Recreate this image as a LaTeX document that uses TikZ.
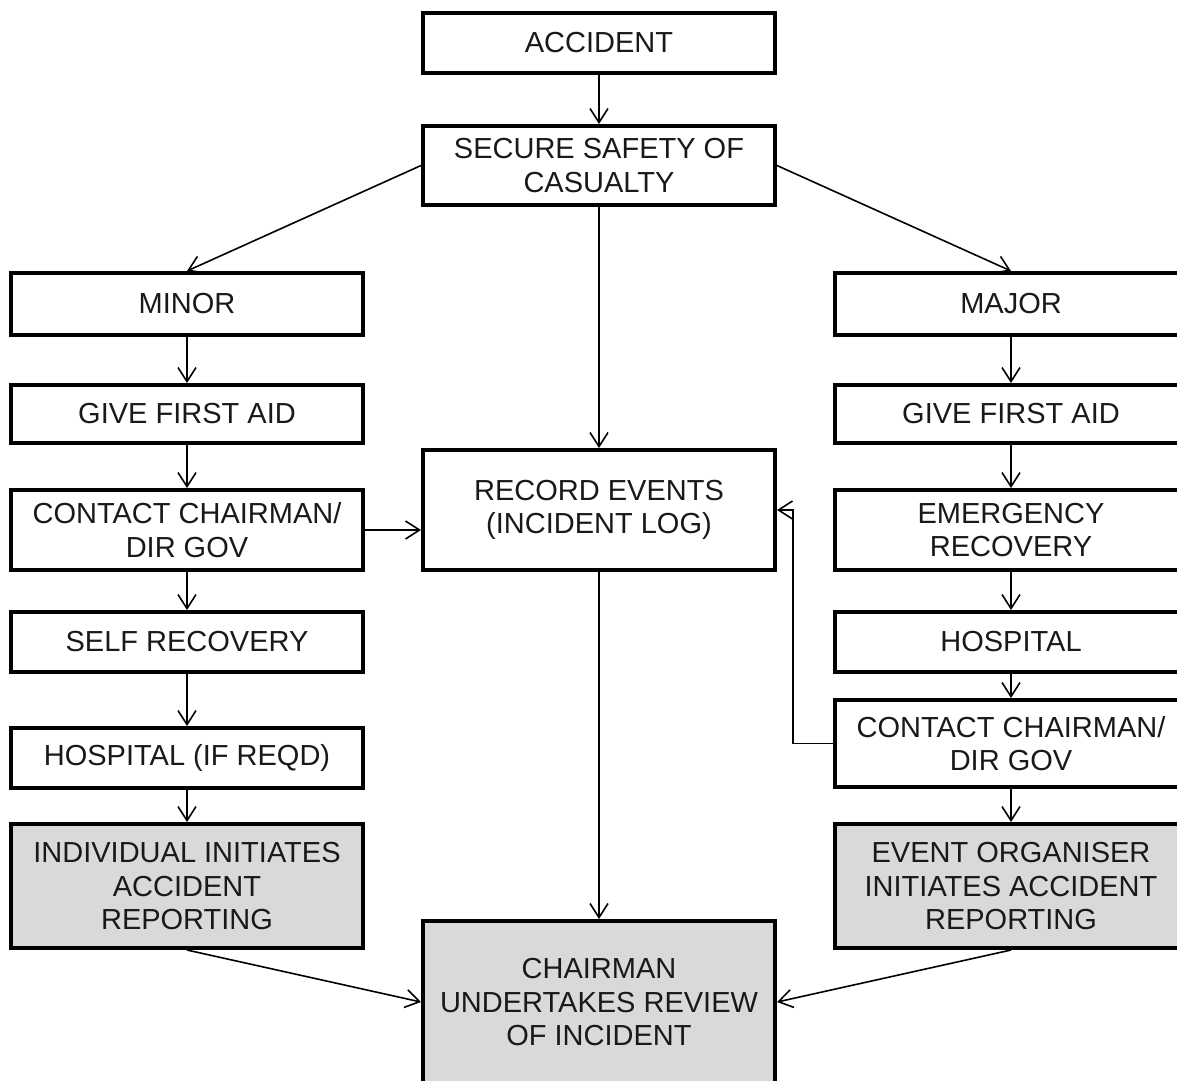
\documentclass[tikz,border=0pt]{standalone}
\usepackage{fontspec}
\setmainfont{Liberation Sans}
\usetikzlibrary{arrows.meta}
\definecolor{boxgray}{HTML}{D9D9D9}
\tikzset{
  box/.style={draw=black, line width=4pt, minimum width=352pt, align=center, inner sep=0pt,
              font=\fontsize{29}{33.5}\selectfont, text=black!90},
  graybox/.style={box, fill=boxgray},
  conn/.style={line width=1.6pt, -{Straight Barb[length=14pt,width=18pt,line width=1.6pt]}}
}
\begin{document}
\begin{tikzpicture}[x=1pt,y=-1pt]
\useasboundingbox (0,0) rectangle (1177,1080);
\node[box, minimum height=60pt] (acc) at (599,43) {ACCIDENT};
\node[box, minimum height=79pt] (sec) at (599,165.5) {SECURE SAFETY OF\\CASUALTY};
\node[box, minimum height=62pt] (minor) at (187,304) {MINOR};
\node[box, minimum height=62pt] (major) at (1011,304) {MAJOR};
\node[box, minimum height=58pt] (gfa1) at (187,414) {GIVE FIRST AID};
\node[box, minimum height=58pt] (gfa2) at (1011,414) {GIVE FIRST AID};
\node[box, minimum height=80pt] (cc1) at (187,530) {CONTACT CHAIRMAN/\\DIR GOV};
\node[box, minimum height=120pt] (rec) at (599,510) {RECORD EVENTS\\(INCIDENT LOG)};
\node[box, minimum height=80pt] (em) at (1011,530) {EMERGENCY\\RECOVERY};
\node[box, minimum height=60pt] (self) at (187,642) {SELF RECOVERY};
\node[box, minimum height=60pt] (hosp) at (1011,642) {HOSPITAL};
\node[box, minimum height=60pt] (hosp1) at (187,758) {HOSPITAL (IF REQD)};
\node[box, minimum height=87pt] (cc2) at (1011,743.5) {CONTACT CHAIRMAN/\\DIR GOV};
\node[graybox, minimum height=124pt] (ind) at (187,886) {INDIVIDUAL INITIATES\\ACCIDENT\\REPORTING};
\node[graybox, minimum height=124pt] (evt) at (1011,886) {EVENT ORGANISER\\INITIATES ACCIDENT\\REPORTING};
\node[graybox, minimum height=162pt] (chair) at (599,1002) {CHAIRMAN\\UNDERTAKES REVIEW\\OF INCIDENT};

\draw[conn] (acc) -- (sec);
\draw[conn] (sec.west) -- (minor.north);
\draw[conn] (sec.east) -- (major.north);
\draw[conn] (sec) -- (rec);
\draw[conn] (minor) -- (gfa1);
\draw[conn] (gfa1) -- (cc1);
\draw[conn] (cc1) -- (self);
\draw[conn] (self) -- (hosp1);
\draw[conn] (hosp1) -- (ind);
\draw[conn] (cc1.east) -- (rec.west |- cc1.east);
\draw[conn] (major) -- (gfa2);
\draw[conn] (gfa2) -- (em);
\draw[conn] (em) -- (hosp);
\draw[conn] (hosp) -- (cc2);
\draw[conn] (cc2) -- (evt);
\draw[conn] (cc2.west) -- ++(-40,0) |- (rec.east);
\draw[conn] (rec) -- (chair);
\draw[conn] (ind.south) -- (chair.west);
\draw[conn] (evt.south) -- (chair.east);
\end{tikzpicture}
\end{document}
